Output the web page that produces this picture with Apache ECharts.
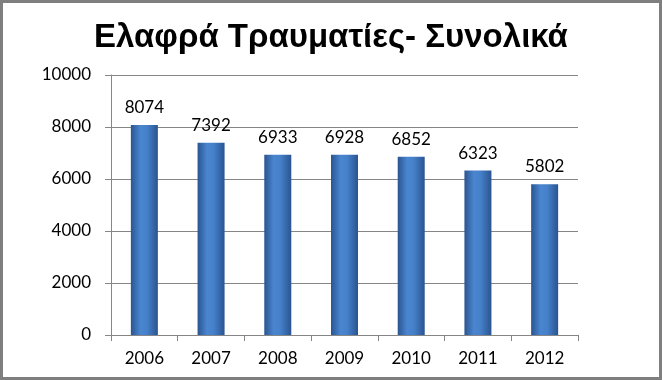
<!DOCTYPE html>
<html><head><meta charset="utf-8">
<script src="https://cdn.jsdelivr.net/npm/echarts@6/dist/echarts.min.js"></script>
<style>html,body{margin:0;padding:0;background:#fff}#c{width:662px;height:380px}</style>
</head><body><div id="c"></div>
<script>
const title = 'Ελαφρά Τραυματίες- Συνολικά';
const categories = ['2006','2007','2008','2009','2010','2011','2012'];
const values = [8074, 7392, 6933, 6928, 6852, 6323, 5802];
const yTicks = {min: 0, max: 10000, interval: 2000};

const chart = echarts.init(document.getElementById('c'), null, {renderer: 'canvas'});
const font = 'Lato, "Open Sans", sans-serif';
chart.setOption({
  backgroundColor: '#fff',
  animation: false,
  title: {
    text: title, left: 'center', top: 16,
    textStyle: {fontFamily: '"Liberation Sans", Arial, sans-serif', fontWeight: 'bold', fontSize: 33, color: '#000'}
  },
  graphic: [{type: 'rect', shape: {x: 1.5, y: 1.5, width: 659, height: 377}, style: {fill: 'none', stroke: '#7f7f7f', lineWidth: 3}, silent: true}],
  grid: {left: 111, right: 84, top: 75, bottom: 45},
  xAxis: {
    type: 'category', data: categories,
    axisLine: {lineStyle: {color: '#868686', width: 1}},
    axisTick: {show: true, length: 6, lineStyle: {color: '#868686'}},
    axisLabel: {fontFamily: font, fontSize: 17, color: '#000', margin: 15}
  },
  yAxis: {
    type: 'value', min: yTicks.min, max: yTicks.max, interval: yTicks.interval,
    axisLine: {show: true, lineStyle: {color: '#868686'}},
    axisTick: {show: true, length: 6, lineStyle: {color: '#868686'}},
    splitLine: {lineStyle: {color: '#868686', width: 1}},
    axisLabel: {fontFamily: font, fontSize: 17, color: '#000', margin: 20, formatter: v => String(v)}
  },
  series: [{
    type: 'bar', data: values, barWidth: 27,
    itemStyle: {
      color: {type: 'linear', x: 0, y: 0, x2: 1, y2: 0, colorStops: [
        {offset: 0, color: '#2a5590'}, {offset: 0.35, color: '#4a85d0'},
        {offset: 0.6, color: '#4580c9'}, {offset: 1, color: '#2a5490'}]}
    },
    label: {show: true, position: 'top', distance: 9, fontFamily: font, fontSize: 17, color: '#000'}
  }]
});
</script></body></html>
